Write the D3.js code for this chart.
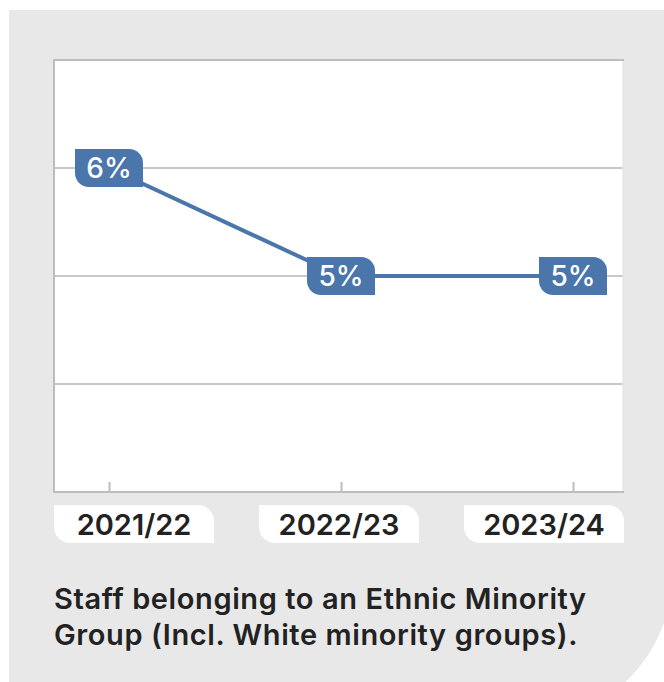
<!DOCTYPE html>
<html>
<head>
<meta charset="utf-8">
<script src="https://cdn.jsdelivr.net/npm/d3@7"></script>
<style>
  html, body { margin: 0; padding: 0; background: #ffffff; }
  svg { display: block; }
</style>
</head>
<body>
<svg id="chart" width="664" height="682"></svg>
<script>
const categories = ["2021/22", "2022/23", "2023/24"];
const values = [6, 5, 5];
const valueLabels = ["6%", "5%", "5%"];
const yTicks = [3, 4, 5, 6, 7];
const titleLines = ["Staff belonging to an Ethnic Minority", "Group (Incl. White minority groups)."];

const svg = d3.select("#chart");
const blue = "#4a76ab";
const gridCol = "#c8c8c8";
const font = "Inter, 'Noto Sans', sans-serif";

// card background with large rounded bottom-right corner
const cardL = 9, cardT = 10, cardR = 672, cardB = 721, rad = 146;
svg.append("path")
  .attr("d", `M${cardL},${cardT} H${cardR} V${cardB - rad} A${rad},${rad} 0 0 1 ${cardR - rad},${cardB} H${cardL} Z`)
  .attr("fill", "#e8e8e8");

const plot = { left: 54, right: 623, top: 60, bottom: 492 };

svg.append("rect")
  .attr("x", plot.left).attr("y", plot.top)
  .attr("width", plot.right - plot.left).attr("height", plot.bottom - plot.top)
  .attr("fill", "#ffffff");

const x = d3.scalePoint().domain(categories).range([109, 573]);
const y = d3.scaleLinear().domain([3, 7]).range([plot.bottom, plot.top]);
const band = d3.scaleBand().domain(categories).range([plot.left, plot.right + 1]).paddingInner(45 / 205).paddingOuter(0);

// gridlines
svg.append("g").selectAll("line")
  .data(yTicks.filter(t => t > 3 && t < 7))
  .join("line")
  .attr("x1", plot.left).attr("x2", plot.right)
  .attr("y1", d => y(d)).attr("y2", d => y(d))
  .attr("stroke", gridCol).attr("stroke-width", 2);

// right faint edge
svg.append("line")
  .attr("x1", plot.right).attr("x2", plot.right)
  .attr("y1", plot.top).attr("y2", plot.bottom)
  .attr("stroke", "#e2e2e2").attr("stroke-width", 1);

// top border
svg.append("line")
  .attr("x1", plot.left - 1).attr("x2", plot.right + 1)
  .attr("y1", y(7)).attr("y2", y(7))
  .attr("stroke", "#bdbdbd").attr("stroke-width", 2);

// left border
svg.append("line")
  .attr("x1", plot.left).attr("x2", plot.left)
  .attr("y1", plot.top - 1).attr("y2", plot.bottom + 1)
  .attr("stroke", "#bdbdbd").attr("stroke-width", 2);

// x axis
const xAxis = d3.axisBottom(x).tickSize(-10).tickFormat("").tickSizeOuter(0);
const gx = svg.append("g").attr("transform", `translate(0,${plot.bottom})`).call(xAxis);
gx.select(".domain").remove();
gx.selectAll(".tick line").attr("stroke", "#bdbdbd").attr("stroke-width", 2);
svg.append("line")
  .attr("x1", plot.left - 1).attr("x2", plot.right + 1)
  .attr("y1", plot.bottom).attr("y2", plot.bottom)
  .attr("stroke", "#bdbdbd").attr("stroke-width", 2);

// shape: square top-left & bottom-right, rounded top-right & bottom-left
function tagPath(x0, y0, w, h, r) {
  return `M${x0},${y0} H${x0 + w - r} A${r},${r} 0 0 1 ${x0 + w},${y0 + r} V${y0 + h} H${x0 + r} A${r},${r} 0 0 1 ${x0},${y0 + h - r} Z`;
}

// x labels
const xl = svg.append("g").selectAll("g").data(categories).join("g");
xl.append("path")
  .attr("d", d => tagPath(band(d), 505, band.bandwidth(), 38, 16))
  .attr("fill", "#ffffff");
xl.append("text")
  .attr("x", d => band(d) + band.bandwidth() / 2)
  .attr("y", 535)
  .attr("text-anchor", "middle")
  .attr("font-family", font).attr("font-weight", 600)
  .attr("font-size", 29).attr("fill", "#222222")
  .text(d => d);

// line
const line = d3.line().x((d, i) => x(categories[i])).y(d => y(d));
svg.append("path")
  .datum(values)
  .attr("d", line)
  .attr("fill", "none")
  .attr("stroke", blue).attr("stroke-width", 4);

// value tags
const vl = svg.append("g").selectAll("g").data(values).join("g");
const tw = 68, th = 38;
vl.append("path")
  .attr("d", (d, i) => tagPath(x(categories[i]) - tw / 2, y(d) - th / 2, tw, th, 14))
  .attr("fill", blue);
vl.append("text")
  .attr("x", (d, i) => x(categories[i]))
  .attr("y", d => y(d) + 10)
  .attr("text-anchor", "middle")
  .attr("font-family", font).attr("font-weight", 500)
  .attr("font-size", 28).attr("fill", "#ffffff")
  .text((d, i) => valueLabels[i]);

// title
svg.append("g").selectAll("text").data(titleLines).join("text")
  .attr("x", 54)
  .attr("y", (d, i) => 609 + i * 36)
  .attr("font-family", font).attr("font-weight", 600)
  .attr("font-size", 29).attr("letter-spacing", 0.6).attr("fill", "#222222")
  .text(d => d);
</script>
</body>
</html>
